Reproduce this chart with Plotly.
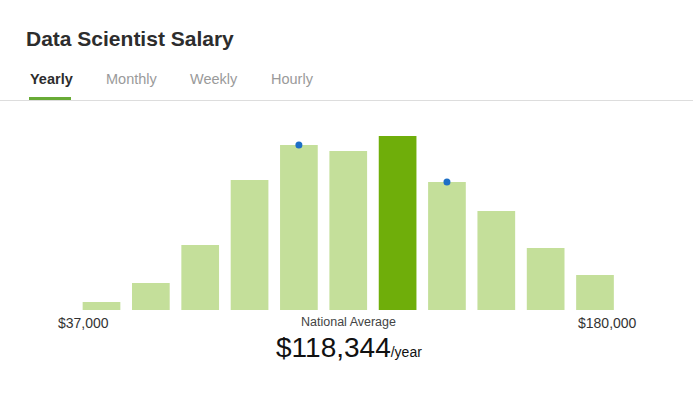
import plotly.graph_objects as go

W, H = 693, 397

# Data (relative bar heights)
bins = list(range(11))
counts = [8, 27, 65, 130, 165, 159, 174, 128, 99, 62, 35]
highlight_index = 6
dot_bins = [4, 7]
min_label = "$37,000"
max_label = "$180,000"
avg_label = "National Average"
avg_value = "$118,344"
avg_unit = "/year"
title_text = "Data Scientist Salary"
tabs = ["Yearly", "Monthly", "Weekly", "Hourly"]
tab_x = [30, 106, 190, 271]

LIGHT = "#c4df9a"
DARK = "#6fae0a"
BLUE = "#1d6fc6"

colors = [DARK if i == highlight_index else LIGHT for i in bins]

fig = go.Figure()
fig.add_trace(go.Bar(x=bins, y=counts, marker=dict(color=colors, line=dict(width=0)),
                     hoverinfo="skip", showlegend=False))
fig.add_trace(go.Scatter(x=dot_bins, y=[counts[i] for i in dot_bins], mode="markers",
                         marker=dict(color=BLUE, size=7), hoverinfo="skip", showlegend=False))

def px(x):
    return x / W

def py(y):
    return 1 - y / H

pitch = (595 - 101.5) / 10
x0 = 0 - 101.5 / pitch
x1 = 10 + (W - 595) / pitch

fig.update_layout(
    width=W, height=H, margin=dict(l=0, r=0, t=0, b=0),
    paper_bgcolor="white", plot_bgcolor="white",
    bargap=0.236,
    xaxis=dict(range=[x0, x1], domain=[0, 1], visible=False, fixedrange=True),
    yaxis=dict(range=[0, 210], domain=[py(310), py(100)], visible=False, fixedrange=True),
    font=dict(family="Liberation Sans, Arial, sans-serif"),
)

ann = []
ann.append(dict(x=px(24), y=py(38.5), xref="paper", yref="paper", text=f"<b>{title_text}</b>",
                showarrow=False, xanchor="left", yanchor="middle",
                font=dict(size=21, color="#2d2d2d")))
for i, (t, tx) in enumerate(zip(tabs, tab_x)):
    ann.append(dict(x=px(tx - 2), y=py(79.5), xref="paper", yref="paper",
                    text=f"<b>{t}</b>" if i == 0 else t,
                    showarrow=False, xanchor="left", yanchor="middle",
                    font=dict(size=14.5, color="#2d2d2d" if i == 0 else "#9a9a9a")))
ann.append(dict(x=px(56), y=py(323), xref="paper", yref="paper", text=min_label,
                showarrow=False, xanchor="left", yanchor="middle",
                font=dict(size=14, color="#333333")))
ann.append(dict(x=px(639), y=py(323), xref="paper", yref="paper", text=max_label,
                showarrow=False, xanchor="right", yanchor="middle",
                font=dict(size=14, color="#333333")))
ann.append(dict(x=px(348.5), y=py(321.5), xref="paper", yref="paper", text=avg_label,
                showarrow=False, xanchor="center", yanchor="middle",
                font=dict(size=12.5, color="#444444")))
ann.append(dict(x=px(274), y=py(347), xref="paper", yref="paper",
                text=f"{avg_value}<span style='font-size:14px'>{avg_unit}</span>",
                showarrow=False, xanchor="left", yanchor="middle",
                font=dict(size=28, color="#111111")))
fig.update_layout(annotations=ann)

fig.add_shape(type="line", xref="paper", yref="paper", x0=0, x1=1, y0=py(100.5), y1=py(100.5),
              line=dict(color="#dddddd", width=1))
fig.add_shape(type="rect", xref="paper", yref="paper", x0=px(29), x1=px(71), y0=py(100), y1=py(97),
              fillcolor="#68ab36", line=dict(width=0))

fig.write_html("out.html", config={"displayModeBar": False})
